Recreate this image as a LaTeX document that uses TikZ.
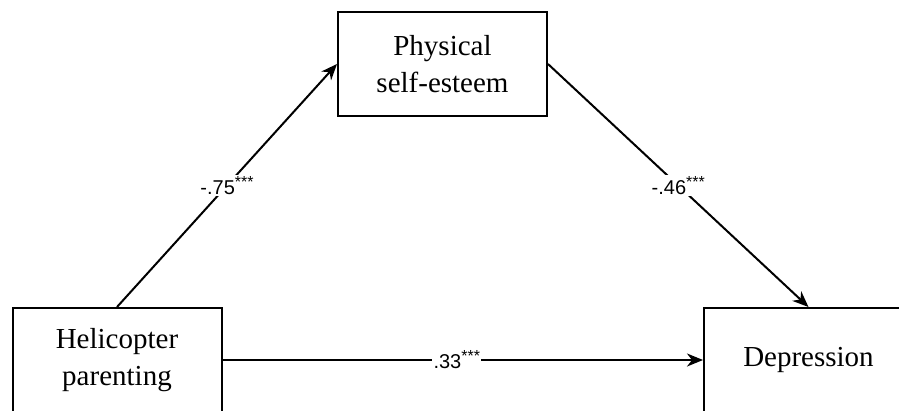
\documentclass[tikz,border=0pt]{standalone}
\usepackage{fontspec}
\setmainfont{Liberation Serif}
\newfontfamily\labfont{Liberation Sans}
\usetikzlibrary{arrows.meta}
\newcommand{\stars}{\raisebox{0.35em}{\fontsize{16}{16}\selectfont ***}}
\begin{document}
\begin{tikzpicture}[x=1pt,y=-1pt,
  box/.style={draw,line width=2pt,minimum width=209pt,minimum height=104pt,align=center,font=\fontsize{29}{37}\selectfont,inner sep=0pt},
  conn/.style={line width=2pt,-{Stealth[length=16pt,width=13pt,inset=5pt]}},
  lab/.style={fill=white,inner sep=1.5pt,font=\labfont\fontsize{20}{22}\selectfont}]
\useasboundingbox (0,0) rectangle (899,410);
\node[box] (ps) at (442.5,64) {Physical\\self-esteem};
\node[box] (hp) at (117,360) {Helicopter\\parenting};
\node[box] (dep) at (808.5,360) {Depression};
\draw[conn] (hp.north) -- node[lab]{-.75\stars} (ps.west);
\draw[conn] (ps.east) -- node[lab]{-.46\stars} (dep.north);
\draw[conn] (hp.east) -- node[lab,xshift=-6pt]{.33\stars} (dep.west);
\end{tikzpicture}
\end{document}
